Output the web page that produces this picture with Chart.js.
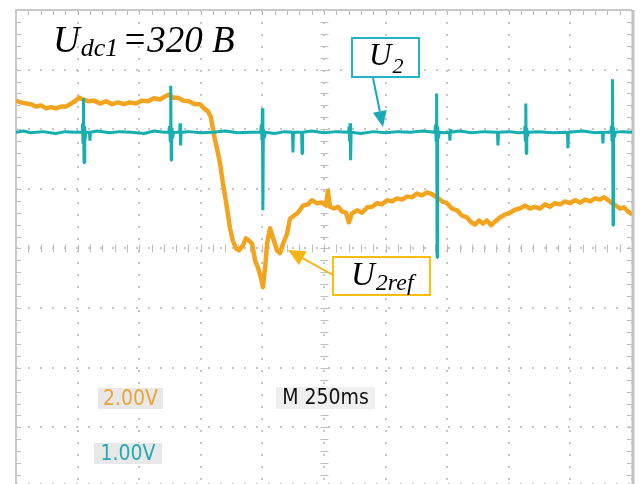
<!DOCTYPE html>
<html>
<head>
<meta charset="utf-8">
<script src="https://cdn.jsdelivr.net/npm/chart.js@4/dist/chart.umd.min.js"></script>
<style>
  html, body { margin: 0; padding: 0; background: #ffffff; overflow: hidden; }
  canvas { display: block; }
</style>
</head>
<body>
<canvas id="scope" width="640" height="484"></canvas>
<script>
// Reference voltage U2ref (channel 2), time in ms, level in screen divisions
const orangeTime = [0, 20, 41, 61, 81, 101, 122, 142, 162, 183, 203, 223, 239, 256, 272, 292, 317, 341, 365, 390,
  414, 438, 463, 487, 511, 536, 560, 584, 605, 621, 637, 657, 678, 702, 726, 747, 763, 779, 791, 799,
  808, 815, 828, 840, 856, 868, 880, 893, 905, 921, 933, 946, 958, 970, 982, 994, 1002, 1011, 1019, 1031,
  1043, 1059, 1071, 1084, 1100, 1112, 1128, 1144, 1165, 1185, 1201, 1221, 1242, 1258, 1266, 1274, 1291, 1307, 1323, 1339,
  1351, 1364, 1384, 1404, 1425, 1445, 1465, 1485, 1506, 1526, 1546, 1567, 1587, 1607, 1627, 1648, 1668, 1688, 1709, 1729,
  1749, 1769, 1790, 1810, 1830, 1847, 1863, 1879, 1895, 1911, 1928, 1944, 1964, 1985, 2005, 2025, 2045, 2066, 2086, 2106,
  2127, 2147, 2167, 2187, 2208, 2228, 2248, 2269, 2289, 2309, 2330, 2350, 2370, 2386, 2403, 2419, 2435, 2451, 2467, 2484,
  2500];
const orangeLevel = [2.48, 2.45, 2.43, 2.42, 2.38, 2.40, 2.35, 2.37, 2.35, 2.38, 2.38, 2.43, 2.47, 2.53, 2.50, 2.47, 2.48, 2.43, 2.47, 2.42,
  2.45, 2.42, 2.45, 2.43, 2.48, 2.47, 2.52, 2.50, 2.55, 2.58, 2.53, 2.53, 2.48, 2.47, 2.42, 2.42, 2.35, 2.30, 2.20, 2.01,
  1.81, 1.69, 1.43, 1.09, 0.69, 0.35, 0.13, 0.00, -0.03, 0.05, 0.17, 0.13, 0.08, -0.20, -0.32, -0.49, -0.65, -0.32, 0.08, 0.34,
  0.18, -0.03, -0.08, 0.08, 0.25, 0.50, 0.55, 0.60, 0.72, 0.74, 0.81, 0.76, 0.77, 0.72, 0.97, 0.70, 0.67, 0.70, 0.62, 0.60,
  0.44, 0.59, 0.64, 0.60, 0.69, 0.70, 0.76, 0.74, 0.81, 0.79, 0.84, 0.82, 0.87, 0.86, 0.92, 0.89, 0.94, 0.91, 0.86, 0.79,
  0.76, 0.67, 0.64, 0.55, 0.52, 0.44, 0.40, 0.47, 0.42, 0.47, 0.39, 0.45, 0.52, 0.57, 0.60, 0.65, 0.67, 0.72, 0.67, 0.70,
  0.67, 0.74, 0.70, 0.76, 0.74, 0.79, 0.76, 0.81, 0.77, 0.82, 0.79, 0.84, 0.82, 0.86, 0.81, 0.76, 0.72, 0.67, 0.69, 0.62,
  0.57];

// Output voltage U2 (channel 1), time in ms, level in screen divisions
const cyanTime = [0, 30, 60, 110, 160, 200, 240,
  268, 270, 272, 274, 276, 278, 280, 284, 298, 300, 302,
  330, 380, 420, 470, 520, 560, 600,
  620, 623, 626, 628, 630, 632, 635, 640, 664, 666, 668, 670,
  700, 750, 800, 850, 900, 950,
  993, 996, 998, 1000, 1002, 1004, 1007, 1012,
  1050, 1090, 1122, 1124, 1126, 1159, 1161, 1163,
  1200, 1250, 1300,
  1350, 1352, 1354, 1356, 1358, 1360,
  1400, 1450, 1500, 1550, 1600, 1650,
  1700, 1703, 1705, 1707, 1709, 1711, 1714, 1718,
  1740, 1759, 1761, 1763, 1765,
  1800, 1850, 1900, 1954, 1956, 1958,
  2000, 2040,
  2062, 2065, 2067, 2069, 2071, 2073, 2076, 2080,
  2120, 2180, 2238, 2240, 2242,
  2300, 2350, 2380, 2382, 2384,
  2414, 2417, 2419, 2421, 2423, 2425, 2428, 2432,
  2460, 2500];
const cyanLevel = [1.95, 1.97, 1.94, 1.96, 1.93, 1.96, 1.95,
  1.95, 2.10, 1.76, 2.52, 1.44, 2.05, 1.80, 1.95, 1.95, 1.81, 1.95,
  1.97, 1.94, 1.96, 1.95, 1.93, 1.97, 1.95,
  1.95, 2.05, 1.80, 2.73, 1.48, 2.02, 1.85, 1.95, 1.95, 2.10, 1.73, 1.95,
  1.96, 1.94, 1.95, 1.97, 1.94, 1.95,
  1.95, 2.08, 1.82, 2.35, 0.64, 2.00, 1.85, 1.95,
  1.93, 1.96, 1.95, 1.61, 1.95, 1.95, 1.59, 1.95,
  1.97, 1.94, 1.96,
  1.95, 2.05, 1.80, 2.10, 1.48, 1.95,
  1.93, 1.96, 1.94, 1.96, 1.95, 1.97,
  1.95, 2.08, 1.80, 2.60, -0.15, 2.05, 1.85, 1.95,
  1.94, 1.95, 1.81, 2.00, 1.95,
  1.97, 1.94, 1.96, 1.95, 1.73, 1.95,
  1.96, 1.94,
  1.95, 2.05, 1.80, 2.43, 1.59, 2.02, 1.88, 1.95,
  1.96, 1.94, 1.95, 1.68, 1.95,
  1.97, 1.94, 1.95, 1.76, 1.95,
  1.95, 2.06, 1.80, 2.84, 0.39, 2.03, 1.86, 1.95,
  1.96, 1.95];

// On-screen readouts
const channelScales = ['2.00V', '1.00V'];
const timeBase = 'M 250ms';
const supplyLabel = { main: 'U', sub: 'dc1', rest: '=320 B' };
const traceNames = { u2: { main: 'U', sub: '2' }, ref: { main: 'U', sub: '2ref' } };

const ORANGE = '#F2A41F';
const CYAN = '#16AEB1';
const GRID = '#c6c6c6';

const toPoints = (t, v) => t.map((x, i) => ({ x, y: v[i] }));

function arrow(ctx, x1, y1, x2, y2, color, head, half) {
  const ang = Math.atan2(y2 - y1, x2 - x1);
  const bx = x2 - Math.cos(ang) * head, by = y2 - Math.sin(ang) * head;
  ctx.strokeStyle = color; ctx.fillStyle = color; ctx.lineWidth = 2;
  ctx.beginPath(); ctx.moveTo(x1, y1); ctx.lineTo(bx, by); ctx.stroke();
  ctx.beginPath();
  ctx.moveTo(x2, y2);
  ctx.lineTo(bx + Math.sin(ang) * half, by - Math.cos(ang) * half);
  ctx.lineTo(bx - Math.sin(ang) * half, by + Math.cos(ang) * half);
  ctx.closePath(); ctx.fill();
}

function subLabel(ctx, x, y, mainSize, subSize, subDrop, parts) {
  ctx.fillStyle = '#000';
  ctx.textBaseline = 'alphabetic';
  ctx.textAlign = 'left';
  ctx.font = `italic ${mainSize}px "Liberation Serif", "Times New Roman", serif`;
  ctx.fillText(parts.main, x, y);
  const w = ctx.measureText(parts.main).width;
  ctx.font = `italic ${subSize}px "Liberation Serif", "Times New Roman", serif`;
  ctx.fillText(parts.sub, x + w + 1, y + subDrop);
  return x + w + 1 + ctx.measureText(parts.sub).width;
}

function readout(ctx, text, x, y, w, h, color, bg) {
  ctx.fillStyle = bg;
  ctx.fillRect(x, y, w, h);
  ctx.fillStyle = color;
  ctx.font = '21px "DejaVu Sans Condensed", "DejaVu Sans", sans-serif';
  ctx.textBaseline = 'middle';
  ctx.textAlign = 'center';
  ctx.fillText(text, x + w / 2, y + h / 2 + 1);
}

const scopeFace = {
  id: 'scopeFace',
  beforeDatasetsDraw(chart) {
    const { ctx, chartArea: a, scales: { x, y } } = chart;
    ctx.save();
    ctx.strokeStyle = '#bdbdbd';
    ctx.lineWidth = 1;
    const y0 = Math.round(y.getPixelForValue(0)) + 0.5;
    const xc = Math.round(x.getPixelForValue(1250)) + 0.5;
    ctx.beginPath();
    for (let i = 0; i <= 50; i++) {
      const px = Math.round(x.getPixelForValue(i * 50)) + 0.5;
      ctx.moveTo(px, y0 - 4); ctx.lineTo(px, y0 + 4);
      ctx.moveTo(px, a.top); ctx.lineTo(px, a.top + 5);
    }
    for (let i = -20; i <= 20; i++) {
      const py = Math.round(y.getPixelForValue(i * 0.2)) + 0.5;
      ctx.moveTo(xc - 4, py); ctx.lineTo(xc + 4, py);
      ctx.moveTo(a.left, py); ctx.lineTo(a.left + 5, py);
      ctx.moveTo(a.right, py); ctx.lineTo(a.right - 5, py);
    }
    ctx.stroke();
    // frame
    ctx.strokeStyle = '#c9c9c9';
    ctx.lineWidth = 2;
    ctx.beginPath();
    ctx.moveTo(a.left, a.bottom); ctx.lineTo(a.left, a.top); ctx.lineTo(a.right, a.top);
    ctx.stroke();
    ctx.strokeStyle = '#c2c2c2';
    ctx.lineWidth = 3;
    ctx.beginPath();
    ctx.moveTo(a.right + 1, a.top); ctx.lineTo(a.right + 1, a.bottom);
    ctx.stroke();
    ctx.restore();
  },
  afterDraw(chart) {
    const { ctx } = chart;
    ctx.save();
    // supply voltage heading
    const end = subLabel(ctx, 53, 52, 37, 26, 4, supplyLabel);
    ctx.font = 'italic 37px "Liberation Serif", "Times New Roman", serif';
    ctx.textAlign = 'left';
    ctx.fillText(supplyLabel.rest, end + 4, 52);

    // U2 callout
    ctx.fillStyle = '#fff';
    ctx.fillRect(352, 38, 67, 39);
    ctx.strokeStyle = '#22B3C4';
    ctx.lineWidth = 2;
    ctx.strokeRect(352, 38, 67, 39);
    subLabel(ctx, 369, 65, 31, 22, 8, traceNames.u2);
    arrow(ctx, 373, 78, 383, 127, '#1AA9B6', 16, 7);

    // U2ref callout
    ctx.fillStyle = '#fff';
    ctx.fillRect(333, 257, 97, 38);
    ctx.strokeStyle = '#FDBE10';
    ctx.lineWidth = 2;
    ctx.strokeRect(333, 257, 97, 38);
    subLabel(ctx, 351, 285, 33, 24, 5, traceNames.ref);
    arrow(ctx, 333, 275, 288, 250, '#F7B514', 17, 8);

    // channel and timebase readouts
    readout(ctx, channelScales[0], 98, 388, 65, 21, '#E9A43A', '#e8e8e8');
    readout(ctx, channelScales[1], 94, 443, 68, 21, '#25A9B1', '#e8e8e8');
    readout(ctx, timeBase, 276, 387, 99, 22, '#111', '#efefef');
    ctx.restore();
  }
};

new Chart(document.getElementById('scope'), {
  type: 'line',
  data: {
    datasets: [
      { label: 'U2', data: toPoints(cyanTime, cyanLevel), borderColor: CYAN, borderWidth: 3,
        pointRadius: 0, tension: 0, borderJoinStyle: 'bevel', fill: false },
      { label: 'U2ref', data: toPoints(orangeTime, orangeLevel), borderColor: ORANGE, borderWidth: 4.5,
        pointRadius: 0, tension: 0, borderJoinStyle: 'round', fill: false }
    ]
  },
  options: {
    responsive: false,
    animation: false,
    devicePixelRatio: 1,
    layout: { padding: { left: 16, top: 10, right: 8, bottom: 0 } },
    plugins: { legend: { display: false }, tooltip: { enabled: false } },
    scales: {
      x: {
        type: 'linear', min: 0, max: 2500,
        ticks: { display: false, stepSize: 250 },
        grid: { color: GRID, lineWidth: 2, drawTicks: false },
        border: { display: false, dash: [2, 10] }
      },
      y: {
        type: 'linear', min: -3.95, max: 4,
        ticks: { display: false, stepSize: 1 },
        grid: { color: GRID, lineWidth: 2, drawTicks: false },
        border: { display: false, dash: [2, 10] }
      }
    }
  },
  plugins: [scopeFace]
});
</script>
</body>
</html>
